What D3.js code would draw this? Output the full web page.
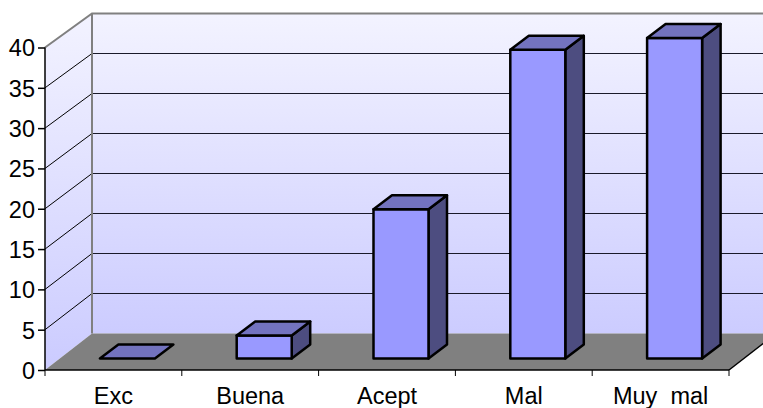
<!DOCTYPE html>
<html><head><meta charset="utf-8">
<script src="https://cdnjs.cloudflare.com/ajax/libs/d3/7.8.5/d3.min.js"></script>
<style>html,body{margin:0;padding:0;background:#fff;overflow:hidden}svg{display:block}text{font-family:"Liberation Sans",Arial,sans-serif;fill:#000}</style>
</head><body><svg id="c" width="763" height="408"></svg>
<script>
const categories = ["Exc","Buena","Acept","Mal","Muy\u00a0 mal"];
const values = [0,2.85,18.5,38.3,39.75];
const yTicks = [0,5,10,15,20,25,30,35,40];

const svg = d3.select("#c");
const x = d3.scaleBand().domain(categories).range([45,729]);
const y = d3.scaleLinear().domain([0,40]).range([370,47.5]);
const yBack = d3.scaleLinear().domain([0,40]).range([333.5,13.5]);
const wallDx = 47;
const barW = 55, barOffX = 14, barOffY = -11.5, barDx = 18.5, barDy = -14;

const defs = svg.append("defs");
const g = defs.append("linearGradient").attr("id","wall").attr("gradientUnits","userSpaceOnUse")
  .attr("x1",0).attr("x2",0).attr("y1",13).attr("y2",340);
g.append("stop").attr("offset",0).attr("stop-color","#F3F3FF");
g.append("stop").attr("offset",1).attr("stop-color","#CBCBFF");
const g2 = defs.append("linearGradient").attr("id","side").attr("gradientUnits","userSpaceOnUse")
  .attr("x1",0).attr("x2",0).attr("y1",13).attr("y2",370);
g2.append("stop").attr("offset",0).attr("stop-color","#F3F3FF");
g2.append("stop").attr("offset",1).attr("stop-color","#CBCBFF");

const x0=x.range()[0], x1=x.range()[1], y0=y(0), yT=y(40), by0=yBack(0), byT=yBack(40);
const poly = pts => pts.map(p=>p.join(",")).join(" ");

// back wall, side wall, floor
svg.append("polygon").attr("points",poly([[x0+wallDx,byT],[x1+wallDx,byT],[x1+wallDx,by0],[x0+wallDx,by0]])).attr("fill","url(#wall)");
svg.append("polygon").attr("points",poly([[x0,yT],[x0+wallDx,byT],[x0+wallDx,by0],[x0,y0]])).attr("fill","url(#side)");
svg.append("polygon").attr("points",poly([[x0,y0],[x1,y0],[x1+wallDx,by0],[x0+wallDx,by0]])).attr("fill","#808080");

// grid lines
svg.append("g").selectAll("line.b").data(yTicks.filter(d=>d>0&&d<40)).join("line")
  .attr("x1",x0+wallDx).attr("x2",x1+wallDx).attr("y1",d=>yBack(d)).attr("y2",d=>yBack(d))
  .attr("stroke","#1a1a2a").attr("stroke-width",1.2);
svg.append("g").selectAll("line.s").data(yTicks.filter(d=>d>0&&d<40)).join("line")
  .attr("x1",x0).attr("x2",x0+wallDx).attr("y1",d=>y(d)).attr("y2",d=>yBack(d))
  .attr("stroke","#000").attr("stroke-width",1);

// wall borders
svg.append("polyline").attr("points",poly([[x0,yT],[x0+wallDx,byT],[x1+wallDx,byT]])).attr("fill","none").attr("stroke","#808080").attr("stroke-width",2);
svg.append("line").attr("x1",x0+wallDx).attr("x2",x0+wallDx).attr("y1",byT).attr("y2",by0).attr("stroke","#808080").attr("stroke-width",2);
svg.append("line").attr("x1",x1).attr("x2",x1+wallDx).attr("y1",y0).attr("y2",by0).attr("stroke","#000").attr("stroke-width",1.5);

// bars
const bars = svg.append("g").selectAll("g").data(categories.map((c,i)=>({c,v:values[i]}))).join("g")
  .attr("stroke","#000").attr("stroke-width",2.5).attr("stroke-linejoin","round");
const L = d => x(d.c)+x.bandwidth()/2+barOffX-barW/2;
const B = () => y(0)+barOffY;
const T = d => y(d.v)+barOffY;
bars.filter(d=>d.v>0).append("polygon").attr("fill","#4D4D80")
  .attr("points",d=>poly([[L(d)+barW,T(d)],[L(d)+barW+barDx,T(d)+barDy],[L(d)+barW+barDx,B()+barDy],[L(d)+barW,B()]]));
bars.filter(d=>d.v>0).append("polygon").attr("fill","#9999FF")
  .attr("points",d=>poly([[L(d),T(d)],[L(d)+barW,T(d)],[L(d)+barW,B()],[L(d),B()]]));
bars.append("polygon").attr("fill","#7373BF")
  .attr("points",d=>poly([[L(d),T(d)],[L(d)+barW,T(d)],[L(d)+barW+barDx,T(d)+barDy],[L(d)+barDx,T(d)+barDy]]));

// axes
const yAxis = d3.axisLeft(y).tickValues(yTicks).tickSize(7).tickPadding(3).tickFormat(d3.format("d"));
const ya = svg.append("g").attr("transform",`translate(${x0},0)`).call(yAxis);
ya.select(".domain").attr("stroke","#000").attr("stroke-width",1.5).attr("d",`M0,${yT}V${y0}`);
ya.selectAll("line").attr("stroke","#000").attr("stroke-width",1.5);
ya.selectAll("text").attr("font-size",23.5).attr("font-family",null).attr("dy","0.36em");

const xAxis = d3.axisBottom(x).tickSizeOuter(0).tickSize(0).tickPadding(17);
const xa = svg.append("g").attr("transform",`translate(0,${y0})`).call(xAxis);
xa.select(".domain").attr("stroke","#000").attr("stroke-width",1.5).attr("d",`M${x0},0H${x1}`);
xa.selectAll("text").attr("font-size",23.5).attr("font-family",null);
xa.selectAll("line.sep").data(d3.range(categories.length+1)).join("line").attr("class","sep")
  .attr("x1",i=>x0+i*x.step()).attr("x2",i=>x0+i*x.step()).attr("y1",0).attr("y2",6).attr("stroke","#000").attr("stroke-width",1);
</script></body></html>
